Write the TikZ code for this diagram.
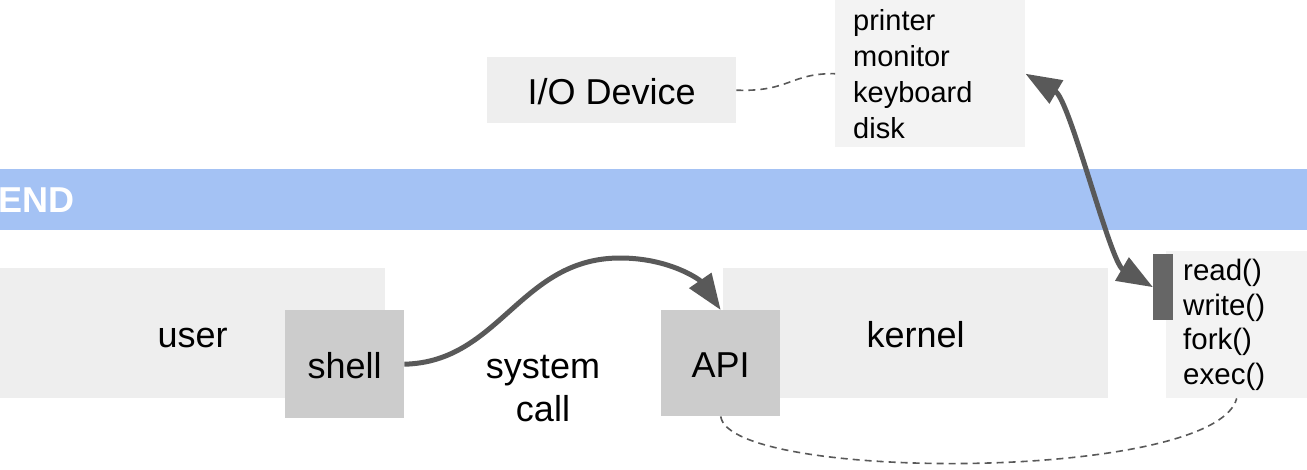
\documentclass[tikz,border=0pt]{standalone}
\usepackage{fontspec}
\setmainfont{Liberation Sans}
\usetikzlibrary{arrows.meta}

\definecolor{paneback}{HTML}{EEEEEE}
\definecolor{listback}{HTML}{F3F3F3}
\definecolor{portback}{HTML}{CCCCCC}
\definecolor{bandblue}{HTML}{A4C2F4}
\definecolor{linegrey}{HTML}{595959}
\definecolor{bargrey}{HTML}{666666}

\tikzset{
    pane/.style={fill=paneback, inner sep=0pt, anchor=north west,
        font=\fontsize{36}{43}\selectfont, text height=34pt, text depth=6pt},
    port/.style={pane, fill=portback},
    listbox/.style={fill=listback, inner sep=0pt, anchor=north west, align=left},
    bigarrow/.style={line width=5pt, draw=linegrey},
    bigtip/.style={Triangle[length=36pt,width=26pt]},
    dashlink/.style={draw=linegrey, line width=1.6pt, dash pattern=on 7pt off 5pt},
}

\begin{document}
\begin{tikzpicture}[x=1pt,y=-1pt]
    \useasboundingbox (0,0) rectangle (1307,469);
    %Band
    \node (band) [fill=bandblue, inner sep=0pt, anchor=north west,
        minimum width=1307pt, minimum height=61pt] at (0,169) {};
    \node (bandlabel) [anchor=west, inner sep=0pt, text=white,
        font=\fontsize{36}{43}\selectfont\bfseries] at (-2,200) {END};
    %Boxes
    \node (user) [pane, minimum width=385pt, minimum height=130pt] at (0,268) {user};
    \node (shell) [port, minimum width=119pt, minimum height=108pt] at (285,310) {shell};
    \node (kernel) [pane, minimum width=385pt, minimum height=130pt] at (723,268) {kernel};
    \node (api) [port, minimum width=119pt, minimum height=106pt] at (661,310) {API};
    \node (syscall) [align=center, font=\fontsize{36}{43}\selectfont] at (543,389) {system\\call};
    \node (io) [pane, minimum width=249pt, minimum height=66pt] at (487,57) {I/O Device};
    \node (devices) [listbox, text width=154pt, inner xsep=18pt, minimum height=147pt,
        font=\fontsize{29}{36}\selectfont] at (835,0) {printer\\monitor\\keyboard\\disk};
    \node (calls) [listbox, text width=107pt, inner xsep=17pt, minimum height=147pt,
        font=\fontsize{29.5}{34.5}\selectfont] at (1166,251) {read()\\write()\\fork()\\exec()};
    \node (bar) [fill=bargrey, inner sep=0pt, anchor=north west,
        minimum width=20pt, minimum height=66pt] at (1153,254) {};
    %Lines
    \draw[bigarrow, -{Triangle[length=36pt,width=26pt]}]
        (shell.east) .. controls (500,362) and (520,258) .. (620,258)
        .. controls (670,258) and (700,280) .. (api.north);
    \draw[bigarrow, {Triangle[length=36pt,width=26pt]}-{Triangle[length=36pt,width=26pt]}]
        (devices.east) .. controls (1070,100) and (1110,262) .. (bar.west);
    \draw[dashlink] (io.east) .. controls (790,92) and (790,73) .. (devices.west);
    \draw[dashlink] (api.south) .. controls (730,482) and (1215,482) .. (calls.south);
\end{tikzpicture}
\end{document}
